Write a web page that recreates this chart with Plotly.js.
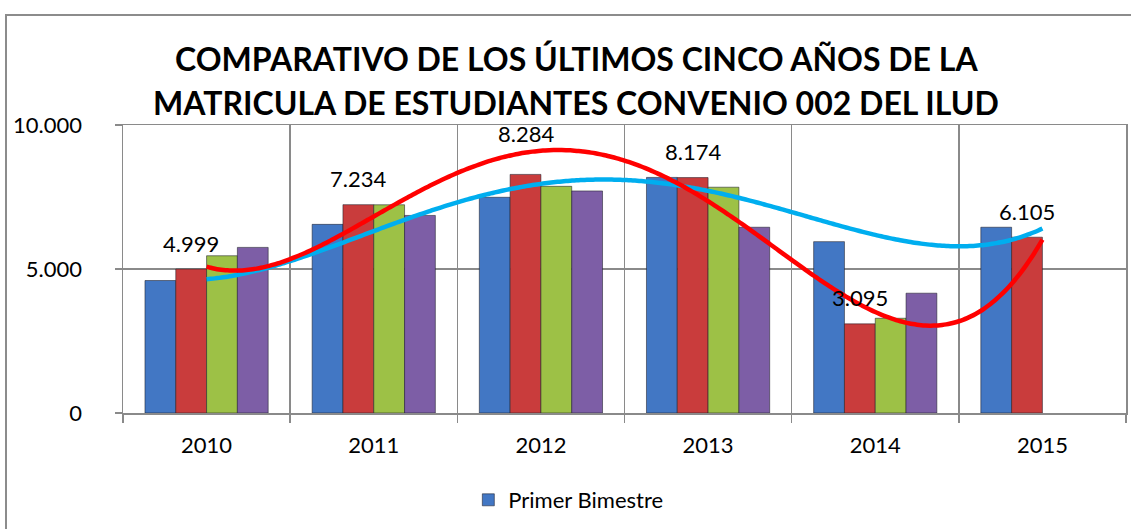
<!DOCTYPE html>
<html>
<head>
<meta charset="utf-8">
<script src="https://cdn.plot.ly/plotly-3.0.1.min.js"></script>
<style>html,body{margin:0;padding:0;background:#fff;}#chart{width:1131px;height:529px;}</style>
</head>
<body>
<div id="chart"></div>
<script>
// ---- data ----
const years = ["2010", "2011", "2012", "2013", "2014", "2015"];
const seriesNames = ["Primer Bimestre", "Segundo Bimestre", "Tercer Bimestre", "Cuarto Bimestre"];
const primer = [4600, 6550, 7490, 8180, 5950, 6450];
const segundo = [4999, 7234, 8284, 8174, 3095, 6105];
const tercero = [5460, 7230, 7870, 7840, 3290, null];
const cuarto = [5750, 6860, 7710, 6450, 4160, null];
const titleLines = ["COMPARATIVO DE LOS ÚLTIMOS CINCO AÑOS DE LA", "MATRICULA DE ESTUDIANTES CONVENIO 002 DEL ILUD"];

// ---- styles ----
const colors = ["#4277C4", "#C93C3C", "#9DC146", "#7D5EA6"];
const FONT = "Lato, 'Open Sans', sans-serif";
const BARGAP = 0.263;

// polynomial least-squares trendline (like a spreadsheet trendline)
function polyFit(ys, deg) {
  const pts = ys.map((y, i) => [i, y]).filter(p => p[1] !== null);
  const n = deg + 1;
  const A = Array.from({length: n}, () => new Array(n + 1).fill(0));
  pts.forEach(([x, y]) => {
    for (let r = 0; r < n; r++) {
      for (let c = 0; c < n; c++) A[r][c] += Math.pow(x, r + c);
      A[r][n] += y * Math.pow(x, r);
    }
  });
  for (let i = 0; i < n; i++) {
    let p = i;
    for (let k = i + 1; k < n; k++) if (Math.abs(A[k][i]) > Math.abs(A[p][i])) p = k;
    [A[i], A[p]] = [A[p], A[i]];
    for (let k = 0; k < n; k++) {
      if (k === i) continue;
      const f = A[k][i] / A[i][i];
      for (let c = i; c <= n; c++) A[k][c] -= f * A[i][c];
    }
  }
  return A.map((row, i) => row[n] / row[i]);
}
function trend(ys, deg) {
  const coef = polyFit(ys, deg);
  const xs = [], out = [];
  const last = ys.length - 1;
  for (let k = 0; k <= 200; k++) {
    const x = last * k / 200;
    xs.push(x);
    out.push(coef.reduce((s, c, j) => s + c * Math.pow(x, j), 0));
  }
  return {x: xs, y: out};
}

const allSeries = [primer, segundo, tercero, cuarto];
const traces = allSeries.map((vals, i) => ({
  type: "bar",
  name: seriesNames[i],
  x: years,
  y: vals,
  marker: {color: colors[i], line: {color: "rgba(30,30,40,0.55)", width: 1}},
  showlegend: i === 0,
  hoverinfo: "x+y"
}));

const tRed = trend(segundo, 4);
const tBlue = trend(primer, 4);
traces.push({type: "scatter", mode: "lines", x: tBlue.x, y: tBlue.y, xaxis: "x2",
  line: {color: "#00AEEF", width: 4.5, shape: "spline"}, showlegend: false, hoverinfo: "skip"});
traces.push({type: "scatter", mode: "lines", x: tRed.x, y: tRed.y, xaxis: "x2",
  line: {color: "#FF0000", width: 4.5, shape: "spline"}, showlegend: false, hoverinfo: "skip"});

// data labels for the second series, centred over its bar
const barW = (1 - BARGAP) / allSeries.length;
const redOffset = -(1 - BARGAP) / 2 + barW * 1.5;
const annotations = segundo.map((v, i) => ({
  x: i + redOffset, y: v, xref: "x", yref: "y",
  text: v.toLocaleString("de-DE"),
  showarrow: false, yanchor: "middle", yshift: i === 2 ? 41 : 26,
  font: {family: FONT, size: 22, color: "#000"}
}));
annotations.push({xref: "paper", yref: "paper", x: 0.452, y: (413 - 58) / 288, xanchor: "center", yanchor: "middle",
  text: "<b>" + titleLines[0] + "</b>", showarrow: false, font: {family: FONT, size: 32, color: "#000"}});
annotations.push({xref: "paper", yref: "paper", x: 0.452, y: (413 - 102.5) / 288, xanchor: "center", yanchor: "middle",
  text: "<b>" + titleLines[1] + "</b>", showarrow: false, font: {family: FONT, size: 32, color: "#000"}});

const layout = {
  width: 1131, height: 529,
  margin: {l: 123, r: 5, t: 125, b: 116},
  paper_bgcolor: "#fff", plot_bgcolor: "#fff",
  separators: ",.",
  barmode: "group", bargap: BARGAP, bargroupgap: 0,
  font: {family: FONT, size: 22, color: "#000"},
  xaxis: {
    type: "category", range: [-0.5, 5.5], tickson: "boundaries",
    showgrid: true, gridcolor: "#8a8a8a", gridwidth: 1.5,
    showline: true, linecolor: "#8a8a8a", linewidth: 1.5, mirror: true,
    ticks: "outside", ticklen: 8, tickcolor: "#8a8a8a", tickwidth: 1.5,
    ticklabelstandoff: 12,
    tickfont: {family: FONT, size: 22, color: "#000"}, fixedrange: true
  },
  xaxis2: {overlaying: "x", range: [-0.5, 5.5], visible: false, fixedrange: true},
  yaxis: {
    range: [0, 10000], dtick: 5000, tick0: 0, tickformat: ",d",
    showgrid: true, gridcolor: "#8a8a8a", gridwidth: 1.5, zeroline: false,
    showline: true, linecolor: "#8a8a8a", linewidth: 1.5, mirror: true,
    ticks: "outside", ticklen: 7, tickcolor: "#8a8a8a", tickwidth: 1.5,
    ticklabelstandoff: 28,
    tickfont: {family: FONT, size: 22, color: "#000"}, fixedrange: true
  },
  legend: {orientation: "h", x: 0.444, xanchor: "center", y: (413 - 500) / 288, yanchor: "middle",
    font: {family: FONT, size: 22, color: "#000"}, bgcolor: "rgba(0,0,0,0)"},
  shapes: [{type: "rect", xref: "paper", yref: "paper", layer: "below",
    x0: (6 - 123) / 1003, x1: 1.02, y0: -0.6, y1: (413 - 15) / 288,
    line: {color: "#8c8c8c", width: 2}, fillcolor: "rgba(0,0,0,0)"}],
  annotations: annotations
};

Plotly.newPlot("chart", traces, layout, {displayModeBar: false, staticPlot: true});
</script>
</body>
</html>
